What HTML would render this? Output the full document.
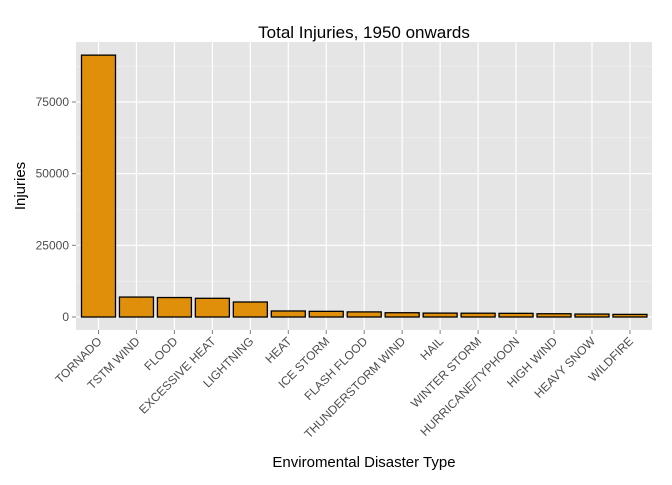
<!DOCTYPE html>
<html><head><meta charset="utf-8"><style>
body{margin:0;background:#fff}
svg text{font-family:"Liberation Sans",sans-serif}
</style></head><body>
<svg id="c" width="672" height="480" xmlns="http://www.w3.org/2000/svg">
<rect width="672" height="480" fill="#fff"/>
<rect x="76" y="42" width="576" height="288" fill="#e5e5e5"/>
<g id="grid"></g><g id="bars"></g><g id="axes"></g>
<text x="364" y="38" font-size="17" text-anchor="middle" fill="#000">Total Injuries, 1950 onwards</text>
<text x="364" y="467" font-size="15" text-anchor="middle" fill="#000">Enviromental Disaster Type</text>
<text transform="translate(25,186) rotate(-90)" font-size="15" text-anchor="middle" fill="#000">Injuries</text>
</svg>
<script>
const categories=["TORNADO","TSTM WIND","FLOOD","EXCESSIVE HEAT","LIGHTNING","HEAT","ICE STORM","FLASH FLOOD","THUNDERSTORM WIND","HAIL","WINTER STORM","HURRICANE/TYPHOON","HIGH WIND","HEAVY SNOW","WILDFIRE"];
const injuries=[91346,6957,6789,6525,5230,2100,1975,1777,1488,1361,1321,1275,1137,1021,911];
const yTicks=[0,25000,50000,75000];
const yTickLabels=["0","25000","50000","75000"];
const NS="http://www.w3.org/2000/svg";
const y=v=>317-v*(215/75000);
const step=37.96, x=i=>98.5+i*step, bw=34;
function mk(t,a,p){const e=document.createElementNS(NS,t);for(const k in a)e.setAttribute(k,a[k]);p.appendChild(e);return e;}
const grid=document.getElementById('grid'),bars=document.getElementById('bars'),axes=document.getElementById('axes');
for(let i=0;i<yTicks.length;i++){
  const v=yTicks[i]+12500;
  if(y(v)>42){const m=mk('line',{x1:76,x2:652,y1:y(v),y2:y(v),stroke:'#f2f2f2','stroke-width':0.6},grid);
  
  }
}
yTicks.forEach((v,i)=>{
  const g=mk('line',{x1:76,x2:652,y1:y(v),y2:y(v),stroke:'#fff','stroke-width':1.2},grid);
  
  
  mk('line',{x1:72,x2:76,y1:y(v),y2:y(v),stroke:'#7f7f7f'},axes);
  const t=mk('text',{x:69,y:y(v)+4,'font-size':12,'text-anchor':'end',fill:'#4d4d4d'},axes);
  t.textContent=yTickLabels[i];
  
  
});
categories.forEach((c,i)=>{
  const g=mk('line',{x1:x(i),x2:x(i),y1:42,y2:330,stroke:'#fff','stroke-width':1.2},grid);
  
  
  const b=mk('rect',{x:x(i)-bw/2,y:y(injuries[i]),width:bw,height:y(0)-y(injuries[i]),fill:'#e08f0b',stroke:'#000','stroke-width':1.3},bars);
  
  
  mk('line',{x1:x(i),x2:x(i),y1:330,y2:334,stroke:'#7f7f7f'},axes);
  const t=mk('text',{transform:`translate(${x(i)+4},${342}) rotate(-45)`,'font-size':12,'text-anchor':'end',fill:'#4d4d4d'},axes);
  t.textContent=c;
  
  
});
</script>
</body></html>
